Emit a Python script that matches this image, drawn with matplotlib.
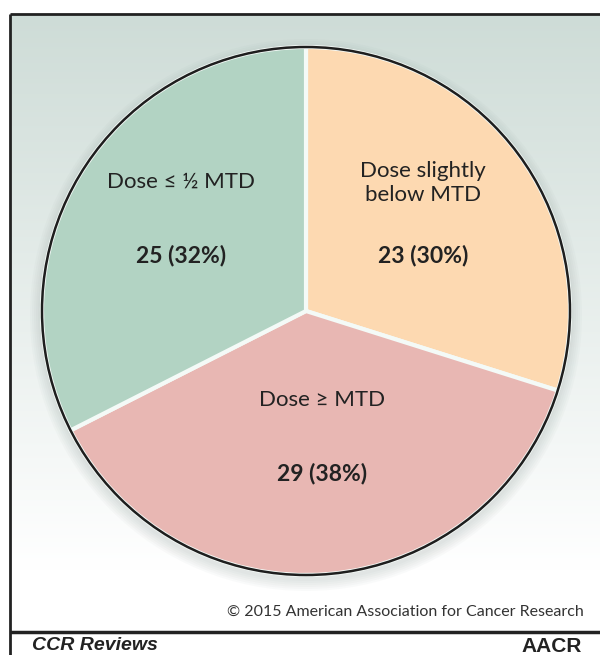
import numpy as np
import matplotlib
matplotlib.use("Agg")
from matplotlib import pyplot as plt
from matplotlib.patches import Circle

# ==========Data==========
categories = ["Dose slightly\nbelow MTD", "Dose \u2265 MTD", "Dose \u2264 \u00bd MTD"]
counts = [23, 29, 25]
percents = [30, 38, 32]
colors = ["#fdd9b1", "#e8b7b3", "#b2d3c3"]

# label positions (image pixel coords, y from top)
name_pos = [(423, 183), (322, 400), (181, 182)]
value_pos = [(423, 256), (322, 473), (181, 256)]

W, H = 600, 655
fam = ["Lato", "DejaVu Sans"]

fig = plt.figure(figsize=(W / 100, H / 100), dpi=100)
ax = fig.add_axes([0, 0, 1, 1])
ax.set_xlim(0, W)
ax.set_ylim(0, H)
ax.set_aspect("equal")
ax.axis("off")

def yy(y):
    # image y (from top) -> axes y
    return H - y

# background gradient inside the frame
left, top, bottom = 10, 14, 632
grad = np.linspace(0, 1, 256)[:, None]
top_c = np.array([206, 220, 215]) / 255
bot_c = np.array([255, 255, 255]) / 255
g = np.clip(grad / 0.9, 0, 1)
img = top_c[None, None, :] * (1 - g[..., None]) + bot_c[None, None, :] * g[..., None]
img = np.repeat(img, 2, axis=1)
ax.imshow(img, extent=[left, W, yy(bottom), yy(top)], aspect="auto", zorder=0)

# soft shadow around pie
cx, cy, r = 306, 311, 264
for i in range(6):
    ax.add_patch(Circle((cx, yy(cy + 4)), r + 12 - 2 * i, color="#8a9a96",
                        alpha=0.045, lw=0, zorder=1))

wedges, _ = ax.pie(counts, colors=colors, startangle=90, counterclock=False,
                   center=(cx, yy(cy)), radius=r, frame=True,
                   wedgeprops=dict(edgecolor="#f4faf7", linewidth=3))
for w in wedges:
    w.set_zorder(2)
ax.set_xlim(0, W)
ax.set_ylim(0, H)
ax.axis("off")
ax.add_patch(Circle((cx, yy(cy)), r, fill=False, ec="#1e1e1e", lw=1.8, zorder=3))

for name, cnt, pct, (nx, ny), (vx, vy) in zip(categories, counts, percents, name_pos, value_pos):
    ax.text(nx, yy(ny), name, ha="center", va="center", fontsize=16,
            family=fam, color="#222222", linespacing=1.3, zorder=4)
    ax.text(vx, yy(vy), "%d (%d%%)" % (cnt, pct), ha="center", va="center",
            fontsize=16.5, family=fam, fontweight="bold", color="#222222", zorder=4)

# frame
ax.plot([left, W], [yy(top), yy(top)], color="#222222", lw=2, zorder=5, solid_capstyle="butt")
ax.plot([left, left], [yy(top), 0], color="#222222", lw=2, zorder=5, solid_capstyle="butt")
ax.plot([left, W], [yy(bottom), yy(bottom)], color="#222222", lw=2.5, zorder=5, solid_capstyle="butt")

ax.text(584, yy(612), "\u00a9 2015 American Association for Cancer Research", ha="right",
        va="center", fontsize=11.5, family=fam, color="#333333", zorder=5)
ax.text(32, yy(646), "CCR Reviews", ha="left", va="center", fontsize=14,
        family=["Liberation Sans", "DejaVu Sans"], fontweight="bold", style="italic",
        color="#222222", zorder=5)
ax.text(582, yy(646), "AACR", ha="right", va="center", fontsize=15,
        family=["Liberation Sans", "DejaVu Sans"], fontweight="bold",
        color="#222222", zorder=5)

fig.savefig("out.png", dpi=100)
